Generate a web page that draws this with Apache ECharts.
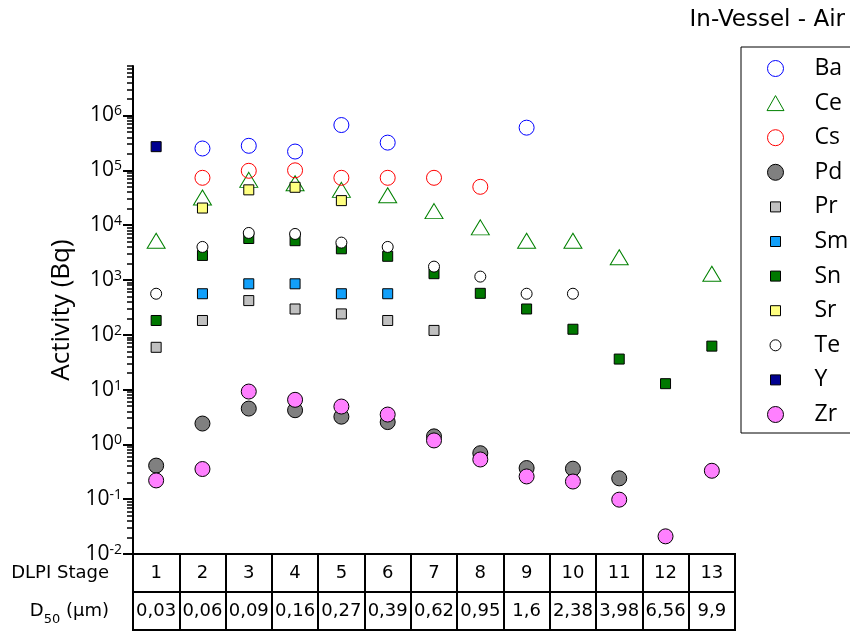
<!DOCTYPE html>
<html><head><meta charset="utf-8">
<script src="https://cdn.jsdelivr.net/npm/echarts@6/dist/echarts.min.js"></script>
<style>html,body{margin:0;padding:0;background:#fff}#c{width:850px;height:633px}</style>
</head><body><div id="c"></div>
<script>
const stages = ['1','2','3','4','5','6','7','8','9','10','11','12','13'];
const d50 = ['0,03','0,06','0,09','0,16','0,27','0,39','0,62','0,95','1,6','2,38','3,98','6,56','9,9'];
const rowLabels = ['D50', 'DLPI Stage'];
const majorTicks = [1e-2, 1e-1, 1e0, 1e1, 1e2, 1e3, 1e4, 1e5, 1e6];

const Ba = [null, 2.5e5, 2.8e5, 2.2e5, 6.7e5, 3.2e5, null, null, 6.0e5, null, null, null, null];
const Ce = [5.2e3, 3.2e4, 6.7e4, 5.8e4, 4.4e4, 3.5e4, 1.8e4, 9.1e3, 5.2e3, 5.2e3, 2.6e3, null, 1.3e3];
const Cs = [null, 7.3e4, 9.8e4, 1.0e5, 7.3e4, 7.3e4, 7.3e4, 5.0e4, null, null, null, null, null];
const Pd = [0.41, 2.4, 4.5, 4.2, 3.2, 2.55, 1.4, 0.69, 0.37, 0.36, 0.24, null, null];
const Pr = [59, 182, 420, 295, 240, 182, 120, null, null, null, null, null, null];
const Sm = [null, 560, 850, 850, 560, 560, null, null, null, null, null, null, null];
const Sn = [182, 2.8e3, 5.7e3, 5.2e3, 3.7e3, 2.7e3, 1.3e3, 570, 295, 126, 36, 12.8, 62];
const Sr = [null, 2.05e4, 4.4e4, 4.9e4, 2.8e4, null, null, null, null, null, null, null, null];
const Te = [560, 4.0e3, 7.2e3, 6.9e3, 4.8e3, 4.0e3, 1.75e3, 1.15e3, 560, 560, null, null, null];
const Y  = [2.7e5, null, null, null, null, null, null, null, null, null, null, null, null];
const Zr = [0.22, 0.355, 9.2, 6.5, 4.9, 3.5, 1.18, 0.53, 0.26, 0.21, 0.098, 0.021, 0.33];

const minorTicks = [];
for (let e = -2; e <= 6; e++) {
  for (let m = 2; m <= 9; m++) {
    const v = m * Math.pow(10, e);
    if (v <= 8e6) minorTicks.push(v);
  }
}

const CLEAR = 'rgba(0,0,0,0)';
const SQ = 'path://M0,0M16,16M3,3L13,3L13,13L3,13Z';
const TRI = 'path://M0,0M18,16M9,0.5L17.5,15.5L0.5,15.5Z';
const SMC = 'path://M0,0M16,16M2.5,8A5.5,5.5,0,1,1,13.5,8A5.5,5.5,0,1,1,2.5,8Z';

const defs = [
  {name:'Ba', data:Ba, symbol:'circle', size:15, fill:CLEAR, stroke:'#0000ff', icon:'circle'},
  {name:'Ce', data:Ce, symbol:'triangle', size:[18,15], fill:CLEAR, stroke:'#008000', icon:TRI},
  {name:'Cs', data:Cs, symbol:'circle', size:15, fill:CLEAR, stroke:'#ff0000', icon:'circle'},
  {name:'Pd', data:Pd, symbol:'circle', size:15, fill:'#808080', stroke:'#000', icon:'circle'},
  {name:'Pr', data:Pr, symbol:'rect', size:10, fill:'#c0c0c0', stroke:'#000', icon:SQ},
  {name:'Sm', data:Sm, symbol:'rect', size:10, fill:'#12a0fa', stroke:'#000', icon:SQ},
  {name:'Sn', data:Sn, symbol:'rect', size:10, fill:'#007800', stroke:'#000', icon:SQ},
  {name:'Sr', data:Sr, symbol:'rect', size:10, fill:'#ffff80', stroke:'#000', icon:SQ},
  {name:'Te', data:Te, symbol:'circle', size:11, fill:'#ffffff', stroke:'#000', icon:SMC},
  {name:'Y',  data:Y,  symbol:'rect', size:10, fill:'#000090', stroke:'#000', icon:SQ},
  {name:'Zr', data:Zr, symbol:'circle', size:15, fill:'#ff80ff', stroke:'#000', icon:'circle'}
];

const chart = echarts.init(document.getElementById('c'), null, {renderer:'canvas'});
const tableFont = 'DejaVu Sans';

chart.setOption({
  animation: false,
  backgroundColor: '#fff',
  title: {
    text: 'In-Vessel - Air', right: 0, top: 4,
    textStyle: {fontFamily: tableFont, fontSize: 23, fontWeight: 'normal', color: '#000'}
  },
  legend: {
    orient: 'vertical', left: 741, top: 47,
    padding: [10, 60, 7, 25],
    itemWidth: 68, itemHeight: 16, itemGap: 11.6,
    borderColor: '#000', borderWidth: 1,
    selectedMode: false,
    textStyle: {fontFamily: 'Open Sans', fontSize: 23, color: '#000', lineHeight: 20},
    data: defs.map(d => ({
      name: d.name, icon: d.icon,
      itemStyle: {color: d.fill, borderColor: d.stroke, borderWidth: 1}
    }))
  },
  grid: [
    {left: 133, right: 115, top: 66, bottom: 79, outerBoundsMode: 'none'},
    {left: 133, right: 115, top: 554, height: 76, show: true, borderColor: '#000', borderWidth: 2, backgroundColor: 'rgba(0,0,0,0)', outerBoundsMode: 'none'}
  ],
  xAxis: [
    {gridIndex: 0, type: 'category', data: stages, boundaryGap: true,
     axisLine: {show: false}, axisTick: {show: false}, axisLabel: {show: false}, splitLine: {show: false}},
    {gridIndex: 1, type: 'category', data: stages, position: 'top', boundaryGap: true,
     axisLine: {show: false}, axisTick: {show: false},
     axisLabel: {inside: true, margin: 19, verticalAlign: 'middle', fontFamily: tableFont, fontSize: 18, color: '#000', interval: 0},
     splitLine: {show: true, interval: 0, lineStyle: {color: '#000', width: 2}}},
    {gridIndex: 1, type: 'category', data: d50, position: 'bottom', boundaryGap: true,
     axisLine: {show: false}, axisTick: {show: false},
     axisLabel: {inside: true, margin: 19, verticalAlign: 'middle', fontFamily: tableFont, fontSize: 18, color: '#000', interval: 0},
     splitLine: {show: false}}
  ],
  yAxis: [
    {gridIndex: 0, type: 'log', min: 0.01, max: 8e6, position: 'left',
     name: 'Activity (Bq)', nameLocation: 'middle', nameGap: 48, nameRotate: 90,
     nameTextStyle: {fontFamily: 'Open Sans', fontSize: 26, color: '#000'},
     axisLine: {show: true, lineStyle: {color: '#000', width: 2}},
     axisTick: {show: true, inside: false, length: 10, customValues: majorTicks, lineStyle: {color: '#000', width: 2}},
     axisLabel: {
       show: true, margin: 11, customValues: majorTicks, color: '#000',
       formatter: v => '{b|10}{e|' + Math.round(Math.log10(v)) + '}',
       rich: {
         b: {fontFamily: 'Open Sans', fontSize: 21, lineHeight: 22, color: '#000'},
         e: {fontFamily: 'Open Sans', fontSize: 14, lineHeight: 14, verticalAlign: 'top', color: '#000'}
       }
     },
     splitLine: {show: false}, minorTick: {show: false}},
    {gridIndex: 0, type: 'log', min: 0.01, max: 8e6, position: 'left',
     axisLine: {show: false},
     axisTick: {show: true, inside: false, length: 6, customValues: minorTicks, lineStyle: {color: '#000', width: 1.5}},
     axisLabel: {show: false}, splitLine: {show: false}},
    {gridIndex: 1, type: 'category', data: rowLabels, position: 'left', boundaryGap: true,
     axisLine: {show: false}, axisTick: {show: false},
     axisLabel: {
       margin: 24, interval: 0, color: '#000', fontFamily: tableFont, fontSize: 18,
       formatter: v => v === 'D50' ? '{n|D}{s|50}{n| (μm)}' : v,
       rich: {
         n: {fontFamily: tableFont, fontSize: 18, color: '#000', lineHeight: 22},
         s: {fontFamily: tableFont, fontSize: 13, color: '#000', lineHeight: 13, verticalAlign: 'bottom', padding: [0, 0, -4, 0]}
       }
     },
     splitLine: {show: true, interval: 0, lineStyle: {color: '#000', width: 2}}}
  ],
  series: defs.map(d => ({
    name: d.name, type: 'scatter', xAxisIndex: 0, yAxisIndex: 0,
    data: d.data, symbol: d.symbol, symbolSize: d.size,
    itemStyle: {color: d.fill, borderColor: d.stroke, borderWidth: 1, opacity: 1},
    emphasis: {disabled: true}
  }))
});
</script></body></html>
